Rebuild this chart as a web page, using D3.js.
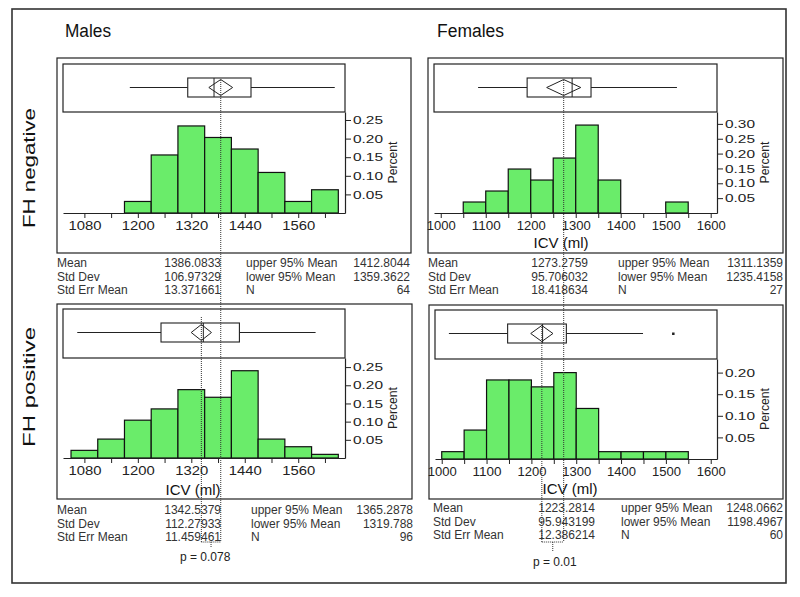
<!doctype html>
<html lang='en'>
<head>
<meta charset='utf-8'>
<title>ICV by sex and family history</title>
<script src='https://cdn.jsdelivr.net/npm/d3@7/dist/d3.min.js'></script>
<style>
    body { margin: 0; background: white; }
    svg { font-family: 'Liberation Sans', Arial, sans-serif; }
    .frame { fill: none; stroke: #222; stroke-width: 1.2px; }
    .border { fill: none; stroke: #333; stroke-width: 1.6px; }
    .bar { fill: #6aec6a; stroke: #111; stroke-width: 1.2px; }
    .whisker { stroke: #222; stroke-width: 1px; }
    .box { fill: white; stroke: #222; stroke-width: 1.1px; }
    .diamond { fill: none; stroke: #222; stroke-width: 1px; }
    .dotted { fill: none; stroke: #333; stroke-width: 1px; stroke-dasharray: 1, 1; }
    .stat { font-size: 12px; fill: #333; }
</style>
</head>
<body>
<svg id='chart' width='800' height='597'></svg>
<script>
    // histogram bins: lower edge of each bin (ml) and share of the group in it
    const maleNegBins = [1170, 1230, 1290, 1350, 1410, 1470, 1530, 1590];
    const maleNegPct = [0.031, 0.156, 0.234, 0.203, 0.172, 0.109, 0.031, 0.0625];
    const femaleNegBins = [1050, 1100, 1150, 1200, 1250, 1300, 1350, 1500];
    const femaleNegPct = [0.037, 0.074, 0.148, 0.111, 0.185, 0.296, 0.111, 0.037];
    const malePosBins = [1050, 1110, 1170, 1230, 1290, 1350, 1410, 1470, 1530, 1590];
    const malePosPct = [0.021, 0.052, 0.104, 0.135, 0.188, 0.167, 0.240, 0.052, 0.031, 0.010];
    const femalePosBins = [1000, 1050, 1100, 1150, 1200, 1250, 1300, 1350, 1400, 1450, 1500];
    const femalePosPct = [0.017, 0.067, 0.183, 0.183, 0.167, 0.200, 0.117, 0.017, 0.017, 0.017, 0.017];

    // box plots: lower whisker, q1, median, q3, upper whisker
    const maleNegBox = [1182, 1312, 1371, 1454, 1642];
    const femaleNegBox = [1083, 1192, 1292, 1334, 1525];
    const malePosBox = [1064, 1252, 1347, 1428, 1599];
    const femalePosBox = [1016, 1147, 1225, 1278, 1449];
    const femalePosOutliers = [1516];

    // summary statistics (mean, sd, se | upper 95%, lower 95%, N)
    const statLabelsLeft = ['Mean', 'Std Dev', 'Std Err Mean'];
    const statLabelsRight = ['upper 95% Mean', 'lower 95% Mean', 'N'];
    const maleNegStats = ['1386.0833', '106.97329', '13.371661', '1412.8044', '1359.3622', '64'];
    const femaleNegStats = ['1273.2759', '95.706032', '18.418634', '1311.1359', '1235.4158', '27'];
    const malePosStats = ['1342.5379', '112.27933', '11.459461', '1365.2878', '1319.788', '96'];
    const femalePosStats = ['1223.2814', '95.943199', '12.386214', '1248.0662', '1198.4967', '60'];

    const maleBinWidth = 60;
    const femaleBinWidth = 50;
    const maleXTicks = d3.range(1080, 1621, 60);
    const maleXLabels = [1080, 1200, 1320, 1440, 1560];
    const femaleXTicks = d3.range(1000, 1601, 50);
    const femaleXLabels = [1000, 1100, 1200, 1300, 1400, 1500, 1600];
    const maleYTicks = [0.05, 0.10, 0.15, 0.20, 0.25];
    const femaleNegYTicks = [0.05, 0.10, 0.15, 0.20, 0.25, 0.30];
    const femalePosYTicks = [0.05, 0.10, 0.15, 0.20];

    const columnTitles = ['Males', 'Females'];
    const rowTitles = ['FH negative', 'FH positive'];
    const pValues = ['p = 0.078', 'p = 0.01'];

    const svg = d3.select('#chart');

    const panels = [
        {bins: maleNegBins, pct: maleNegPct, bw: maleBinWidth, box: maleNegBox, out: [], stats: maleNegStats,
         xDomain: [1032, 1665], yMax: 0.2715, xTicks: maleXTicks, xLabels: maleXLabels, yTicks: maleYTicks,
         outer: [57, 58, 411, 253], left: 63, right: 345, top: 64, divider: 112, axis: 213,
         icv: null, labelLen: 33, statY: 263, statX: [57, 221, 246, 410]},
        {bins: femaleNegBins, pct: femaleNegPct, bw: femaleBinWidth, box: femaleNegBox, out: [], stats: femaleNegStats,
         xDomain: [985, 1614], yMax: 0.34, xTicks: femaleXTicks, xLabels: femaleXLabels, yTicks: femaleNegYTicks,
         outer: [428, 58, 783, 253], left: 434, right: 717, top: 64, divider: 112, axis: 213,
         icv: [561, 243], labelLen: 29, statY: 263, statX: [428, 588, 618, 783]},
        {bins: malePosBins, pct: malePosPct, bw: maleBinWidth, box: malePosBox, out: [], stats: malePosStats,
         xDomain: [1032, 1665], yMax: 0.275, xTicks: maleXTicks, xLabels: maleXLabels, yTicks: maleYTicks,
         outer: [57, 304, 412, 499], left: 63, right: 345, top: 309, divider: 358, axis: 458,
         icv: [193, 490], labelLen: 33, statY: 510, statX: [57, 221, 251, 413]},
        {bins: femalePosBins, pct: femalePosPct, bw: femaleBinWidth, box: femalePosBox, out: femalePosOutliers, stats: femalePosStats,
         xDomain: [985, 1614], yMax: 0.2315, xTicks: femaleXTicks, xLabels: femaleXLabels, yTicks: femalePosYTicks,
         outer: [429, 305, 783, 499], left: 435, right: 717, top: 310, divider: 359, axis: 459,
         icv: [570, 489], labelLen: 29, statY: 508, statX: [433, 595, 621, 783]}
    ];

    // outer border of the whole figure
    svg.append('rect').attr('class', 'border')
        .attr('x', 12).attr('y', 9).attr('width', 774).attr('height', 574);

    svg.selectAll('.col-title')
        .data(columnTitles)
        .enter()
        .append('text')
        .attr('x', (d, i) => i === 0 ? 65 : 437)
        .attr('y', 37)
        .attr('textLength', (d, i) => i === 0 ? 46 : 67)
        .attr('lengthAdjust', 'spacingAndGlyphs')
        .style('font-size', '18px')
        .style('fill', '#111')
        .text(d => d);

    svg.selectAll('.row-title')
        .data(rowTitles)
        .enter()
        .append('text')
        .attr('transform', (d, i) => `translate(35,${i === 0 ? 168 : 387}) rotate(-90)`)
        .attr('text-anchor', 'middle')
        .attr('textLength', 120)
        .attr('lengthAdjust', 'spacingAndGlyphs')
        .style('font-size', '16px')
        .style('fill', '#111')
        .text(d => d);

    const scales = panels.map(drawPanel);

    function drawPanel(p) {
        const g = svg.append('g');
        const x = d3.scaleLinear().domain(p.xDomain).range([p.left, p.right]);
        const y = d3.scaleLinear().domain([0, p.yMax]).range([p.axis, p.divider]);

        g.append('rect').attr('class', 'frame')
            .attr('x', p.outer[0]).attr('y', p.outer[1])
            .attr('width', p.outer[2] - p.outer[0]).attr('height', p.outer[3] - p.outer[1]);

        // box plot strip
        g.append('rect').attr('class', 'frame')
            .attr('x', p.left).attr('y', p.top)
            .attr('width', p.right - p.left).attr('height', p.divider - p.top);

        const bTop = p.top + 14, bBot = p.top + 33, bMid = (bTop + bBot) / 2;
        const [w0, q1, med, q3, w1] = p.box;
        g.append('line').attr('class', 'whisker')
            .attr('x1', x(w0)).attr('x2', x(q1)).attr('y1', bMid).attr('y2', bMid);
        g.append('line').attr('class', 'whisker')
            .attr('x1', x(q3)).attr('x2', x(w1)).attr('y1', bMid).attr('y2', bMid);
        g.append('rect').attr('class', 'box')
            .attr('x', x(q1)).attr('y', bTop).attr('width', x(q3) - x(q1)).attr('height', bBot - bTop);
        g.append('line').attr('class', 'whisker')
            .attr('x1', x(med)).attr('x2', x(med)).attr('y1', bTop).attr('y2', bBot);

        // means diamond spans the 95% confidence interval of the mean
        const mean = +p.stats[0], hi = +p.stats[3], lo = +p.stats[4];
        g.append('path').attr('class', 'diamond')
            .attr('d', `M${x(lo)},${bMid}L${x(mean)},${bTop + 1.5}L${x(hi)},${bMid}L${x(mean)},${bBot - 1.5}Z`);

        g.selectAll('.outlier')
            .data(p.out)
            .enter()
            .append('rect')
            .attr('x', d => x(d) - 1).attr('y', bMid - 1)
            .attr('width', 2.5).attr('height', 2.5)
            .style('fill', '#222');

        // histogram
        g.selectAll('.bar')
            .data(p.bins)
            .enter()
            .append('rect')
            .attr('class', 'bar')
            .attr('x', d => x(d))
            .attr('width', d => x(d + p.bw) - x(d))
            .attr('y', (d, i) => y(p.pct[i]))
            .attr('height', (d, i) => p.axis - y(p.pct[i]));

        const xAxis = g.append('g')
            .attr('transform', `translate(0,${p.axis})`)
            .call(d3.axisBottom(x)
                .tickValues(p.xTicks)
                .tickSize(5)
                .tickSizeOuter(0)
                .tickFormat(d => p.xLabels.includes(d) ? d : ''));
        xAxis.select('.domain').attr('stroke', '#222').attr('stroke-width', 1.2);
        xAxis.selectAll('.tick line').attr('stroke', '#222');
        xAxis.selectAll('text')
            .attr('y', 8)
            .attr('textLength', d => p.xLabels.includes(d) ? p.labelLen : null)
            .attr('lengthAdjust', 'spacingAndGlyphs')
            .style('font-family', 'Liberation Sans, Arial, sans-serif')
            .style('font-size', '12px')
            .style('fill', '#222');

        const yAxis = g.append('g')
            .attr('transform', `translate(${p.right},0)`)
            .call(d3.axisRight(y)
                .tickValues(p.yTicks)
                .tickSize(6)
                .tickSizeOuter(0)
                .tickFormat(d3.format('.2f')));
        yAxis.select('.domain').attr('stroke', '#222').attr('stroke-width', 1.2);
        yAxis.selectAll('.tick line').attr('stroke', '#222');
        yAxis.selectAll('text')
            .attr('x', 8)
            .attr('textLength', 30)
            .attr('lengthAdjust', 'spacingAndGlyphs')
            .style('font-family', 'Liberation Sans, Arial, sans-serif')
            .style('font-size', '11.5px')
            .style('fill', '#222');

        g.append('text')
            .attr('transform', `translate(${p.right + 52},${(p.divider + p.axis) / 2}) rotate(-90)`)
            .attr('text-anchor', 'middle')
            .attr('textLength', 42)
            .attr('lengthAdjust', 'spacingAndGlyphs')
            .style('font-size', '13px')
            .style('fill', '#222')
            .text('Percent');

        if (p.icv) {
            g.append('text')
                .attr('x', p.icv[0]).attr('y', p.icv[1])
                .attr('dy', '0.35em')
                .attr('text-anchor', 'middle')
                .style('font-size', '15px')
                .style('fill', '#111')
                .text('ICV (ml)');
        }

        // statistics table under the panel
        const rows = d3.range(3);
        const rowY = i => p.statY + i * 13.5;
        g.selectAll('.sl').data(rows).enter().append('text').attr('class', 'stat')
            .attr('x', p.statX[0]).attr('y', rowY).attr('dy', '0.35em')
            .text(i => statLabelsLeft[i]);
        g.selectAll('.sv').data(rows).enter().append('text').attr('class', 'stat')
            .attr('x', p.statX[1]).attr('y', rowY).attr('dy', '0.35em')
            .attr('text-anchor', 'end')
            .text(i => p.stats[i]);
        g.selectAll('.sr').data(rows).enter().append('text').attr('class', 'stat')
            .attr('x', p.statX[2]).attr('y', rowY).attr('dy', '0.35em')
            .text(i => statLabelsRight[i]);
        g.selectAll('.srv').data(rows).enter().append('text').attr('class', 'stat')
            .attr('x', p.statX[3]).attr('y', rowY).attr('dy', '0.35em')
            .attr('text-anchor', 'end')
            .text(i => p.stats[i + 3]);

        return x;
    }

    // dotted lines joining the group means to the p values
    const joinY = 542;
    [[0, 2, 80, 317, 6, 180, 557], [1, 3, 80, 325, 10, 533, 562]].forEach((c, k) => {
        const xa = scales[c[0]](+panels[c[0]].stats[0]);
        const xb = scales[c[1]](+panels[c[1]].stats[0]);
        const mid = (xa + xb) / 2;
        svg.append('path').attr('class', 'dotted')
            .attr('d', `M${xa},${c[2]}V${joinY}M${xb},${c[3]}V${joinY}M${Math.min(xa, xb)},${joinY}H${Math.max(xa, xb)}M${mid},${joinY}V${joinY + c[4]}`);
        svg.append('text')
            .attr('x', c[5]).attr('y', c[6]).attr('dy', '0.35em')
            .style('font-size', '12px')
            .style('fill', '#222')
            .text(pValues[k]);
    });
</script>
</body>
</html>
